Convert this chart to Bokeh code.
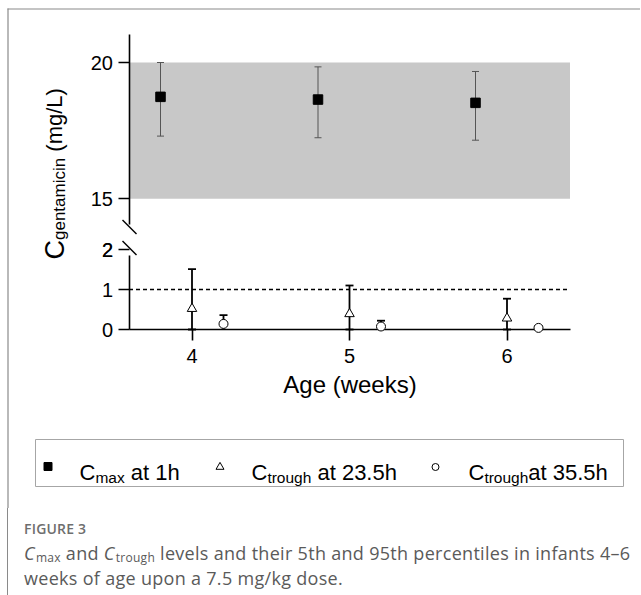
import math
from bokeh.plotting import figure
from bokeh.models import Range1d, LinearAxis, FixedTicker, Whisker, TeeHead, ColumnDataSource, Div, Grid
from bokeh.layouts import column
from bokeh.core.properties import value
from bokeh.embed import file_html
from bokeh.resources import INLINE

# ---------------- data ----------------
x_ticks = [4, 5, 6]
x_lim = [3.6, 6.4]
y_ticks_low = [0, 1, 2]
y_ticks_high = [15, 20]
target_range = [15, 20]
trough_limit = 1

cmax_x = [3.8, 4.8, 5.8]
cmax = [18.74, 18.64, 18.52]
cmax_p5 = [17.30, 17.24, 17.15]
cmax_p95 = [20.00, 19.84, 19.67]

tr23_x = [4.0, 5.0, 6.0]
tr23 = [0.52, 0.39, 0.28]
tr23_p5 = [0.0, 0.0, 0.0]
tr23_p95 = [1.51, 1.10, 0.77]

tr35_x = [4.2, 5.2, 6.2]
tr35 = [0.14, 0.075, 0.04]
tr35_p5 = [0.0, 0.0, 0.0]
tr35_p95 = [0.36, 0.22, 0.08]

x_label = "Age (weeks)"
caption_title = "FIGURE 3"

# ---------------- layout constants ----------------
W, H = 640, 508
PX_X = 157.5            # px per week
X4 = 191.5              # x pixel of week 4
x0 = 4 - X4 / PX_X
x1 = x0 + W / PX_X
PX_LO = 40.0            # px per mg/L (lower panel)
Y0 = 329                # y pixel of 0
PX_HI = 27.26           # px per mg/L (upper panel)
Y20 = 62                # y pixel of 20

def dx(X):
    return x0 + X / PX_X

def dy(Y):
    return (Y0 - Y) / PX_LO

ARIAL = {' ': 278, '.': 278, '1': 556, '2': 556, '3': 556, '5': 556, 'C': 722, 'a': 556,
         'g': 556, 'h': 556, 'm': 833, 'o': 556, 'r': 333, 't': 278, 'u': 556, 'x': 500,
         'e': 556, 'n': 556, 'i': 222, 'c': 500, '(': 333, ')': 333, '/': 278, 'L': 556}

def aw(s, size):
    return sum(ARIAL.get(c, 556) for c in s) / 1000.0 * size

FONT = "Liberation Sans"

p = figure(width=W, height=H, output_backend="svg", toolbar_location=None,
           x_axis_location=None, y_axis_location=None, min_border=0,
           x_range=Range1d(x0, x1),
           y_range=Range1d(-(H - Y0) / PX_LO, Y0 / PX_LO))
p.extra_y_ranges = {"top": Range1d(20 - (H - Y20) / PX_HI, 20 + Y20 / PX_HI)}
p.outline_line_color = None
p.background_fill_color = "white"
p.border_fill_color = "white"
for g in p.select(type=Grid):
    g.visible = False

# shaded target range
p.quad(left=[x_lim[0]], right=[x_lim[1]], bottom=[target_range[0]], top=[target_range[1]],
       y_range_name="top", fill_color="#c8c8c8", line_color=None, level="underlay")

# dashed trough limit
p.line(x=x_lim, y=[trough_limit, trough_limit], line_color="black", line_width=1.5,
       line_dash="4 3")

# error bars
src_max = ColumnDataSource(dict(x=cmax_x, y=cmax, lo=cmax_p5, hi=cmax_p95))
src_23 = ColumnDataSource(dict(x=tr23_x, y=tr23, lo=tr23_p5, hi=tr23_p95))
src_35 = ColumnDataSource(dict(x=tr35_x, y=tr35, lo=tr35_p5, hi=tr35_p95))

w1 = Whisker(source=src_max, base="x", upper="hi", lower="lo", dimension="height",
             y_range_name="top", line_color="#555555", line_width=1,
             upper_head=TeeHead(size=7, line_color="#555555", line_width=1),
             lower_head=TeeHead(size=7, line_color="#555555", line_width=1), level="underlay")
w2 = Whisker(source=src_23, base="x", upper="hi", lower="lo", dimension="height",
             line_color="black", line_width=1.8,
             upper_head=TeeHead(size=8, line_color="black", line_width=1.8),
             lower_head=TeeHead(size=8, line_color="black", line_width=1.8), level="underlay")
w3 = Whisker(source=src_35, base="x", upper="hi", lower="lo", dimension="height",
             line_color="black", line_width=1.8,
             upper_head=TeeHead(size=8, line_color="black", line_width=1.8),
             lower_head=None, level="underlay")
for w in (w1, w2, w3):
    p.add_layout(w)

p.scatter("x", "y", source=src_max, y_range_name="top", marker="square", size=9.5,
          fill_color="black", line_color="black")
r23 = p.scatter("x", "y", source=src_23, marker="triangle", size=9.5,
                fill_color="white", line_color="black", line_width=1)
r35 = p.scatter("x", "y", source=src_35, marker="circle", size=9,
                fill_color="white", line_color="black", line_width=1)
r23.level = "overlay"
r35.level = "overlay"

# axes
def style_axis(ax):
    ax.axis_line_color = "black"
    ax.axis_line_width = 1.6
    ax.major_tick_line_color = "black"
    ax.major_tick_line_width = 1.6
    ax.major_tick_out = 11
    ax.major_tick_in = 0
    ax.minor_tick_line_color = None
    ax.major_label_text_font = FONT
    ax.major_label_text_font_size = "20px"
    ax.major_label_text_color = "black"

xa = LinearAxis(fixed_location=0, bounds=(x_lim[0], x_lim[1]),
                ticker=FixedTicker(ticks=x_ticks), axis_label=x_label)
style_axis(xa)
xa.major_label_standoff = 8
xa.axis_label_text_font = FONT
xa.axis_label_text_font_size = "24px"
xa.axis_label_text_font_style = "normal"
xa.axis_label_text_color = "black"
xa.axis_label_standoff = 5
p.add_layout(xa, "below")

# lower y axis: line stops at the break; label "2" drawn by a tick-less axis
ya_lo = LinearAxis(fixed_location=x_lim[0], bounds=(0, 1.85), ticker=FixedTicker(ticks=y_ticks_low))
style_axis(ya_lo)
ya_lo.major_label_standoff = 5
p.add_layout(ya_lo, "left")

ya_lo2 = LinearAxis(fixed_location=x_lim[0], bounds=(1.9, 2.1),
                    ticker=FixedTicker(ticks=[t for t in y_ticks_low if t > 1.85]))
style_axis(ya_lo2)
ya_lo2.axis_line_color = None
ya_lo2.major_tick_line_color = None
ya_lo2.major_label_standoff = 5
p.add_layout(ya_lo2, "left")

ya_hi = LinearAxis(y_range_name="top", fixed_location=x_lim[0],
                   bounds=(15 - (224 - 198.3) / PX_HI, 20 + 28 / PX_HI),
                   ticker=FixedTicker(ticks=y_ticks_high))
style_axis(ya_hi)
ya_hi.major_label_standoff = 5
p.add_layout(ya_hi, "left")

# axis break marks
bm = p.segment(x0=[dx(122), dx(122)], y0=[dy(219.5), dy(240.5)],
               x1=[dx(136), dx(136)], y1=[dy(233.5), dy(254.5)],
               line_color="black", line_width=1.4)
bm.level = "overlay"

# y axis label (rotated, with subscript)
ylab_parts = [("C", 27, 54), ("gentamicin", 17, 58.5), (" (mg/L)", 22, 54)]
Ycur = 259.0
for txt, fs, bx in ylab_parts:
    s = txt.lstrip(" ")
    Ycur -= aw(txt[:len(txt) - len(s)], fs)
    p.text(x=[dx(bx)], y=[dy(Ycur)], text=[s], angle=math.pi / 2,
           text_font=value(FONT), text_font_size=f"{fs}px", text_color="black",
           text_align="left", text_baseline="alphabetic")
    Ycur -= aw(s, fs)

# legend box
p.quad(left=[dx(35)], right=[dx(623)], top=[dy(439)], bottom=[dy(486)],
       fill_color="white", line_color="#a6a6a6", line_width=1)
p.scatter(x=[dx(47.5)], y=[dy(466)], marker="square", size=8, fill_color="black", line_color="black")
p.scatter(x=[dx(219.5)], y=[dy(466.5)], marker="triangle", size=8, fill_color="white",
          line_color="black", line_width=1)
p.scatter(x=[dx(435)], y=[dy(466.5)], marker="circle", size=7, fill_color="white",
          line_color="black", line_width=1)

MAIN, SUB = 22, 15.5
legend_items = [(79, [("C", 0), ("max", 1), (" at 1h", 0)]),
                (251, [("C", 0), ("trough", 1), (" at 23.5h", 0)]),
                (468, [("C", 0), ("trough", 1), ("at 35.5h", 0)])]
for X, parts in legend_items:
    for txt, is_sub in parts:
        fs = SUB if is_sub else MAIN
        base = 477 if is_sub else 472
        s = txt.lstrip(" ")
        X += aw(txt[:len(txt) - len(s)], fs)
        p.text(x=[dx(X)], y=[dy(base)], text=[s], text_font=value(FONT),
               text_font_size=f"{fs}px", text_color="black",
               text_align="left", text_baseline="alphabetic")
        X += aw(s, fs)

# frame border (left / top)
p.segment(x0=[dx(7.5), dx(7)], y0=[dy(8), dy(8.5)], x1=[dx(7.5), dx(W)], y1=[dy(H), dy(8.5)],
          line_color="#8a8a8a", line_width=1.2)

sub_style = "font-size:12px;vertical-align:-1.5px;line-height:0;margin-left:1px;"
caption_html = (
    "<div style=\"font-family:'Open Sans',sans-serif;padding-left:16px;white-space:nowrap;\">"
    "<div style='margin-top:13px;font-size:14px;line-height:16px;font-weight:600;color:#6e6e6e;letter-spacing:0.2px;'>"
    + caption_title + "</div>"
    "<div style='margin-top:4px;font-size:18px;line-height:24.6px;letter-spacing:0.3px;color:#5a5a5a;'>"
    "<i>C</i><span style='" + sub_style + "'>max</span> and <i>C</i><span style='" + sub_style +
    "'>trough</span> levels and their 5th and 95th percentiles in infants 4\u20136<br>"
    "weeks of age upon a 7.5 mg/kg dose.</div></div>")
cap = Div(text=caption_html, width=W - 7, height=595 - H, margin=(0, 0, 0, 7),
          styles={"border-left": "1px solid #8a8a8a"})

layout = column(p, cap)
open("out.html", "w").write(file_html(layout, INLINE))
